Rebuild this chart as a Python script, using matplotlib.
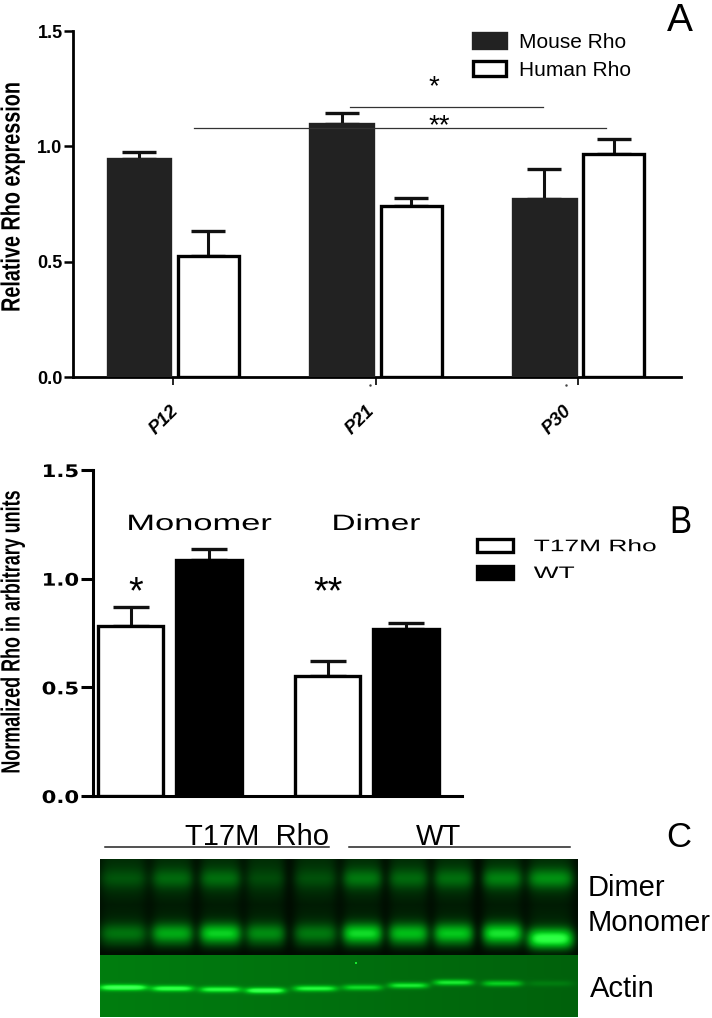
import numpy as np
import matplotlib
matplotlib.use("Agg")
import matplotlib.pyplot as plt
from matplotlib.patheffects import AbstractPathEffect
from matplotlib.transforms import Affine2D, ScaledTranslation

W, H = 712, 1018

# panel A
ages = ["P12", "P21", "P30"]
mouse_rho = [0.945, 1.095, 0.77]
mouse_err = [0.03, 0.05, 0.13]
human_rho = [0.525, 0.74, 0.965]
human_err = [0.11, 0.035, 0.065]
sig_a_x = [[0.874, 1.827], [0.104, 2.138]]
sig_a_y = [1.17, 1.08]
dots_a_x = [0.97, 1.94]

# panel B
forms = ["Monomer", "Dimer"]
t17m_rho = [0.78, 0.55]
t17m_err = [0.09, 0.07]
wt_rho = [1.085, 0.77]
wt_err = [0.05, 0.025]

# panel C, lane centres in blot pixels and band brightness for each lane
lane_x = [23, 72, 120, 165, 215, 262, 308, 353, 402, 450]
lane_w = [24, 21, 21, 20, 22, 20, 20, 20, 20, 23]
dimer_amp = [30, 50, 55, 20, 25, 65, 50, 55, 75, 90]
mono_amp = [80, 135, 175, 105, 85, 185, 155, 165, 195, 235]
mono_y = [74, 74, 74, 74, 74, 74, 74, 74, 74, 79]
actin_amp = [175, 150, 140, 170, 140, 110, 130, 130, 105, 25]
actin_y = [128, 129, 130, 131, 129, 128, 126, 123, 124, 124]
smear_y = [0, 19, 45, 60, 85, 93]
smear_level = [35, 45, 18, 25, 25, 5]


class Squash(AbstractPathEffect):
    # stretches drawn text about a fixed pixel, the reference text is not in natural proportions
    def __init__(self, cx, cy, sx=1.0, sy=1.0):
        super().__init__()
        self.t = Affine2D().translate(-cx, -(H - cy)).scale(sx, sy).translate(cx, H - cy)

    def draw_path(self, renderer, gc, tpath, affine, rgbFace=None):
        renderer.draw_path(gc, tpath, affine + self.t, rgbFace)


def px_axes(left, top, right, bottom):
    return fig.add_axes([left / W, 1 - bottom / H, (right - left) / W, (bottom - top) / H])


def px_text(x, y, s, sx=1.0, sy=1.0, **kw):
    t = fig.text(x / W, 1 - y / H, s, **kw)
    if sx != 1.0 or sy != 1.0:
        t.set_path_effects([Squash(x, y, sx, sy)])
    return t


def style_axes(ax, lw):
    ax.spines["top"].set_visible(False)
    ax.spines["right"].set_visible(False)
    ax.spines["left"].set_linewidth(lw)
    ax.spines["bottom"].set_linewidth(lw)
    ax.set_ylim(0, 1.5)
    ax.set_yticks([0, 0.5, 1.0, 1.5])
    ax.set_yticklabels(["0.0", "0.5", "1.0", "1.5"])


def draw_bars(ax, x, vals, errs, fill, width, capsize):
    b = ax.bar(x, vals, width, color=fill, edgecolor="black" if fill == "white" else fill, linewidth=2.4, zorder=3)
    ax.errorbar(x, vals, yerr=[np.zeros(len(vals)), errs], fmt="none", ecolor="#111111",
                elinewidth=2.2, capsize=capsize, capthick=2.4, zorder=2)
    return b


fig = plt.figure(figsize=(W / 100, H / 100), dpi=100)

# A
ax = px_axes(73, 31, 681, 377)
style_axes(ax, 2.0)
ax.set_xlim((73 - 173) / 202.7, (681 - 173) / 202.7)
xa = np.arange(len(ages))
m_bars = draw_bars(ax, xa - 0.168, mouse_rho, mouse_err, "#222222", 0.31, 12.2)
h_bars = draw_bars(ax, xa + 0.175, human_rho, human_err, "white", 0.302, 12.2)
ax.set_xticks(xa)
ax.set_xticklabels(ages, rotation=45, ha="right", rotation_mode="anchor", style="italic",
                   fontweight="bold", family="Liberation Sans", fontsize=13.5)
ax.tick_params(axis="x", length=5.5, width=1.2, pad=13)
ax.tick_params(axis="y", length=6.5, width=1.8, pad=1)
for lab, dx in zip(ax.get_xticklabels(), [-3, -10, -15]):
    lab.set_transform(lab.get_transform() + ScaledTranslation(dx / 100, 0, fig.dpi_scale_trans))
for lab in ax.get_yticklabels():
    lab.set_fontweight("bold")
    lab.set_family("Liberation Sans")
    lab.set_fontsize(13)
for xs, y in zip(sig_a_x, sig_a_y):
    ax.plot(xs, [y, y], color="#333333", lw=0.9, zorder=4, clip_on=False)
ax.plot(dots_a_x, [-0.035, -0.035], ls="none", marker=".", ms=1.5, color="#444444", clip_on=False)
ax.legend([m_bars, h_bars], ["Mouse Rho", "Human Rho"], frameon=False, loc="upper left",
          bbox_to_anchor=((473 - 73) / 608, (377 - 33) / 346), handlelength=1.6, handleheight=0.72,
          handletextpad=0.62, labelspacing=0.42, borderpad=0, borderaxespad=0,
          prop={"family": "Liberation Sans", "size": 15})
px_text(434, 94, "*", fontsize=20, ha="center", va="baseline", family="Liberation Sans")
px_text(439, 133, "**", fontsize=20, ha="center", va="baseline", family="Liberation Sans")
px_text(12.5, 197, "Relative Rho expression", sy=0.75, rotation=90, ha="center", va="center",
        family="Liberation Sans", fontweight="bold", fontsize=19)

# B
ax2 = px_axes(93, 470, 462, 796)
style_axes(ax2, 2.2)
ax2.set_xlim((93 - 170) / 197.0, (462 - 170) / 197.0)
xb = np.arange(len(forms))
t_bars = draw_bars(ax2, xb - 0.2, t17m_rho, t17m_err, "white", 0.33, 13.3)
w_bars = draw_bars(ax2, xb + 0.2, wt_rho, wt_err, "black", 0.335, 13.3)
ax2.set_xticks([])
ax2.tick_params(axis="y", length=9, width=2.2, pad=1)
for lab in ax2.get_yticklabels():
    lab.set_fontweight("bold")
    lab.set_family("DejaVu Sans")
    lab.set_fontsize(12.5)
    lab.set_path_effects([Squash(79, 0, sx=1.22)])
leg = ax2.legend([t_bars, w_bars], ["T17M Rho", "WT"], frameon=False, loc="upper left",
                 bbox_to_anchor=((477 - 93) / 369, (796 - 539) / 326), handlelength=2.15, handleheight=0.8,
                 handletextpad=1.26, labelspacing=0.7, borderpad=0, borderaxespad=0,
                 prop={"family": "Liberation Sans", "size": 12})
for lab in leg.get_texts():
    lab.set_path_effects([Squash(534, 0, sx=1.58)])
px_text(199, 530, "Monomer", sx=1.55, fontsize=16, ha="center", va="baseline", family="Liberation Sans")
px_text(376, 530, "Dimer", sx=1.5, fontsize=16, ha="center", va="baseline", family="Liberation Sans")
px_text(136, 603, "*", fontsize=27, ha="center", va="baseline", family="Liberation Sans")
px_text(328, 603, "**", fontsize=27, ha="center", va="baseline", family="Liberation Sans")
px_text(12.5, 632, "Normalized Rho in arbitrary units", sy=0.68, rotation=90, ha="center", va="center",
        family="Liberation Sans", fontweight="bold", fontsize=19)

# C, blot rebuilt from the per lane band values
ax3 = px_axes(100, 859, 578, 1017)
yy, xx = np.mgrid[0:158, 0:478]
top = yy < 96
green = np.where(top, 10.0, 125.0 - 28.0 * xx / 478)
smear = np.interp(yy, smear_y, smear_level)
for i in range(len(lane_x)):
    across = np.exp(-(np.abs(xx - lane_x[i]) / lane_w[i]) ** 5)
    green += top * across * smear
    green += top * across * dimer_amp[i] * np.exp(-((yy - 19) / 10.0) ** 2)
    green += top * across * mono_amp[i] * np.exp(-((yy - mono_y[i]) / 10.0) ** 2)
    green += (~top) * across * actin_amp[i] * np.exp(-((yy - actin_y[i]) / 3.0) ** 2)
green[103:105, 255:257] = 230
red = np.clip(green - 190, 0, None) * 0.6
blue = red * 0.8 + 0.12 * green
rgb = np.clip(np.dstack([red, green, blue]) / 255.0, 0, 1)
ax3.imshow(rgb, aspect="auto", interpolation="bilinear")
ax3.axis("off")

ax4 = fig.add_axes([0, 0, 1, 1], facecolor="none")
ax4.set_xlim(0, W)
ax4.set_ylim(H, 0)
ax4.axis("off")
ax4.plot([105, 329], [847, 847], color="#222222", lw=1.1)
ax4.plot([349, 570], [847, 847], color="#222222", lw=1.1)
px_text(257, 845, "T17M  Rho", fontsize=21, ha="center", va="baseline", family="Liberation Sans")
px_text(438, 845, "WT", fontsize=21, ha="center", va="baseline", family="Liberation Sans")
px_text(588, 896, "Dimer", fontsize=21, ha="left", va="baseline", family="Liberation Sans")
px_text(588, 931, "Monomer", fontsize=21, ha="left", va="baseline", family="Liberation Sans")
px_text(590, 997, "Actin", fontsize=21, ha="left", va="baseline", family="Liberation Sans")

# panel letters
px_text(680, 31, "A", fontsize=28, ha="center", va="baseline", family="Liberation Sans")
px_text(681, 533, "B", sx=0.85, fontsize=28, ha="center", va="baseline", family="Liberation Sans")
px_text(679, 847, "C", fontsize=25, ha="center", va="baseline", family="Liberation Sans")

fig.savefig("out.png", dpi=100)
